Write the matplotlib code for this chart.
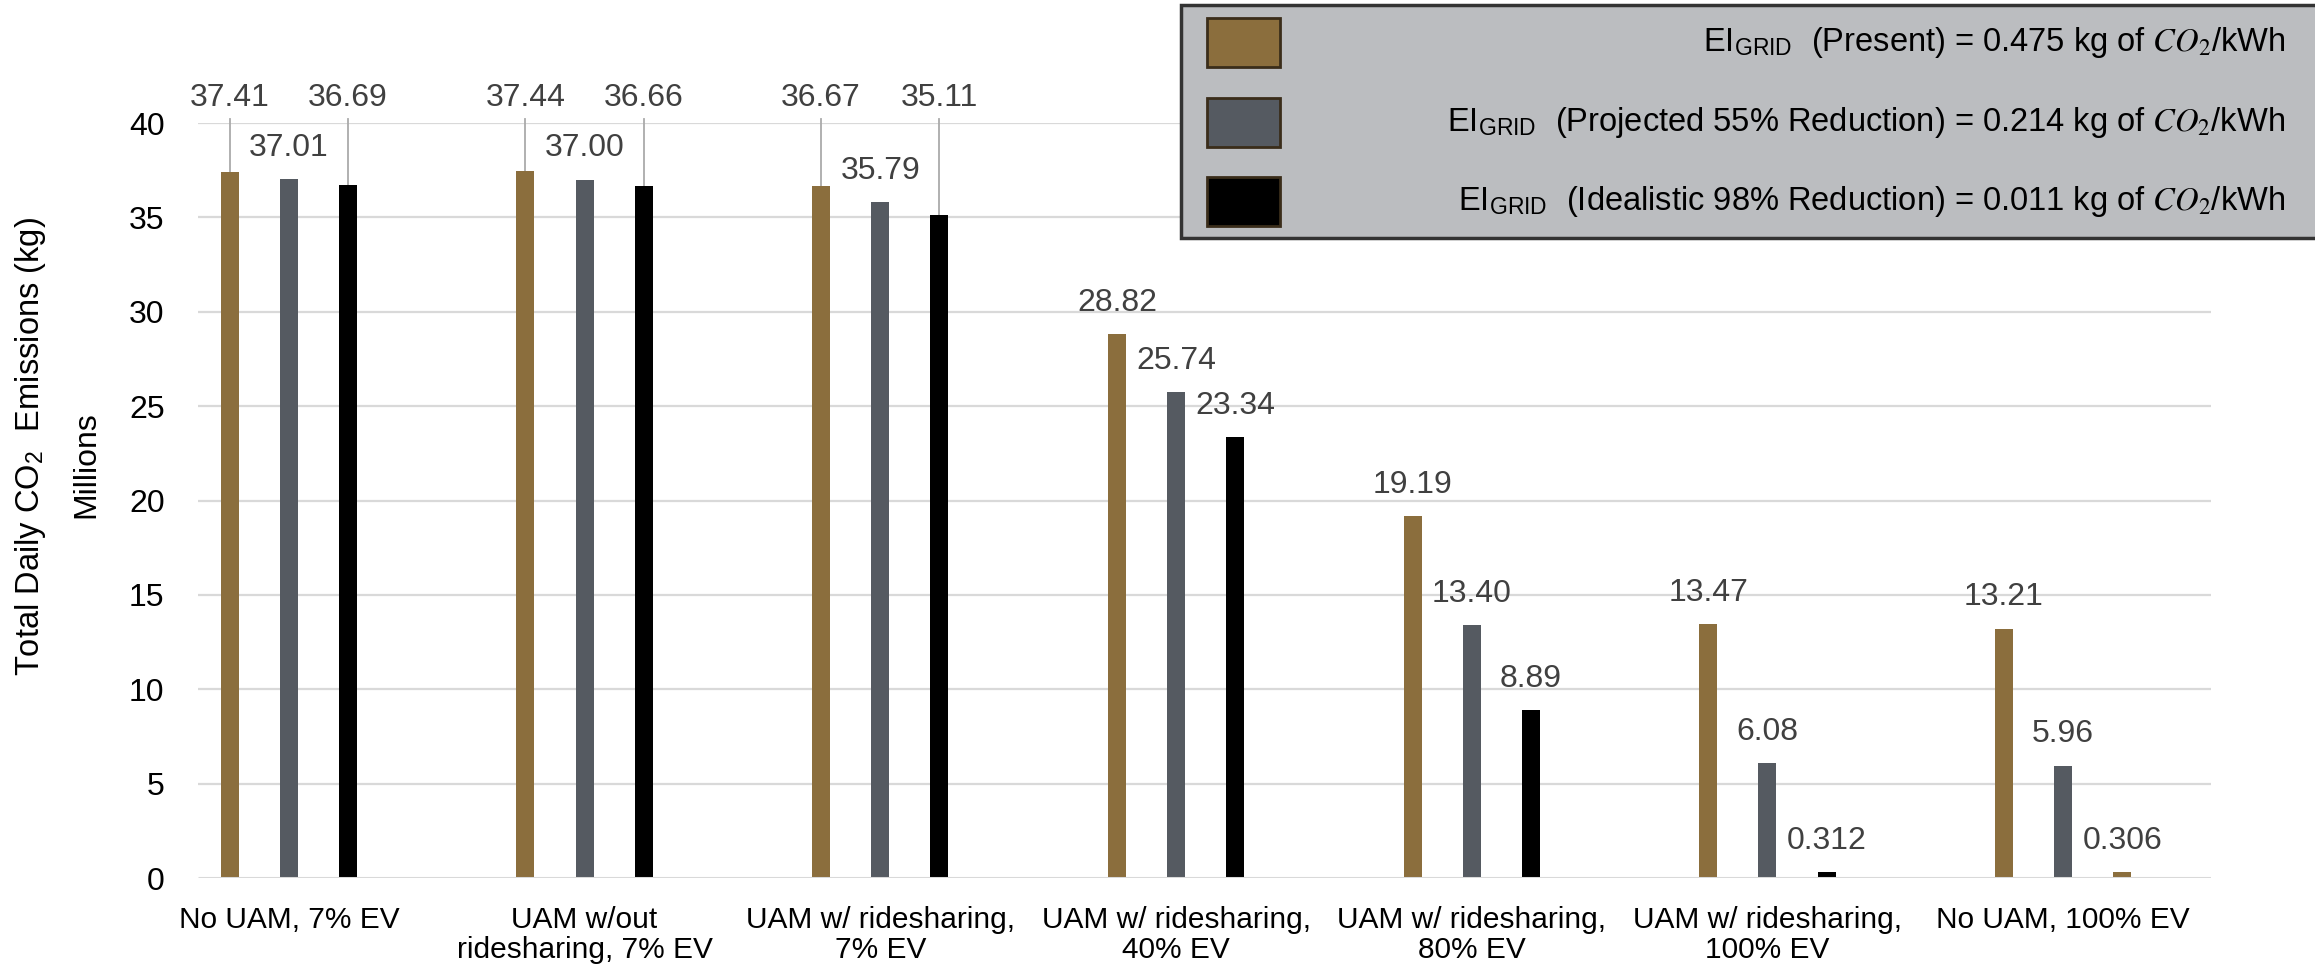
import matplotlib
matplotlib.use("Agg")
import matplotlib.pyplot as plt
from matplotlib.patches import Rectangle
import numpy as np

plt.rcParams['font.family'] = ['Liberation Sans', 'DejaVu Sans']
plt.rcParams['mathtext.fontset'] = 'stix'

# scenarios on the x axis
categories = [
    "No UAM, 7% EV",
    "UAM w/out\nridesharing, 7% EV",
    "UAM w/ ridesharing,\n7% EV",
    "UAM w/ ridesharing,\n40% EV",
    "UAM w/ ridesharing,\n80% EV",
    "UAM w/ ridesharing,\n100% EV",
    "No UAM, 100% EV",
]

# total daily CO2 emissions, millions of kg
present = [37.41, 37.44, 36.67, 28.82, 19.19, 13.47, 13.21]
projected = [37.01, 37.00, 35.79, 25.74, 13.40, 6.08, 5.96]
idealistic = [36.69, 36.66, 35.11, 23.34, 8.89, 0.312, 0.306]

present_txt = ["37.41", "37.44", "36.67", "28.82", "19.19", "13.47", "13.21"]
projected_txt = ["37.01", "37.00", "35.79", "25.74", "13.40", "6.08", "5.96"]
idealistic_txt = ["36.69", "36.66", "35.11", "23.34", "8.89", "0.312", "0.306"]

legend_labels = [
    r"EI$_{\mathregular{GRID}}$  (Present) = 0.475 kg of $\mathit{CO}_2$/kWh",
    r"EI$_{\mathregular{GRID}}$  (Projected 55% Reduction) = 0.214 kg of $\mathit{CO}_2$/kWh",
    r"EI$_{\mathregular{GRID}}$  (Idealistic 98% Reduction) = 0.011 kg of $\mathit{CO}_2$/kWh",
]

yticks = [0, 5, 10, 15, 20, 25, 30, 35, 40]

GOLD = "#8b6e3d"
GREY = "#555a61"
BLACK = "#000000"
LABEL = "#404040"
GRID = "#d9d9d9"

# which labels sit up top with a leader line (series index, category index)
leader_labels = [(0, 0), (2, 0), (0, 1), (2, 1), (0, 2), (2, 2)]

fig = plt.figure(figsize=(23.15, 9.64), dpi=100)
ax = fig.add_axes([0.0609, 0.0892, 0.8942, 0.7832])

x = np.arange(len(categories))
width = 0.061
offsets = [-0.2, 0.0, 0.2]
series = [present, projected, idealistic]
texts = [present_txt, projected_txt, idealistic_txt]
# the last small bar is drawn in gold in the original
colors = [[GOLD] * 7, [GREY] * 7, [BLACK] * 6 + [GOLD]]

for s in range(3):
    bars = ax.bar(x + offsets[s], series[s], width, color=colors[s], zorder=3)
    for i, b in enumerate(bars):
        bx = b.get_x() + b.get_width() / 2
        top = b.get_height()
        if (s, i) in leader_labels:
            ax.text(bx, 41.35, texts[s][i], ha='center', va='center',
                    fontsize=23, color=LABEL, clip_on=False)
            ax.plot([bx, bx], [40.2, top], color="#aaaaaa", lw=1.3,
                    zorder=2, clip_on=False)
        else:
            ax.annotate(texts[s][i], (bx, top), xytext=(0, 22.5),
                        textcoords='offset points', ha='center', va='center',
                        fontsize=23, color=LABEL, annotation_clip=False)

ax.set_xlim(-0.5, len(categories) - 0.5)
ax.set_ylim(0, 40)
ax.set_yticks(yticks)
ax.set_xticks(x)
ax.set_xticklabels(categories, fontsize=21.5, linespacing=1.1)
ax.tick_params(axis='y', labelsize=23, length=0, pad=-17)
ax.tick_params(axis='x', length=0, pad=20)
for side in ['left', 'right', 'top', 'bottom']:
    ax.spines[side].set_visible(False)

# gridlines start a little inside the plot area, like the original
grid_start = -0.307
ax.hlines(yticks[1:], grid_start, len(categories) - 0.5, color=GRID, lw=1.6, zorder=0)
ax.hlines(0, grid_start, len(categories) - 0.5, color=GRID, lw=2.2, zorder=4)

fig.text(0.013, 0.537, r"Total Daily CO$_{\mathregular{2}}$  Emissions (kg)",
         rotation=90, ha='center', va='center', fontsize=23.5)
fig.text(0.0371, 0.518, "Millions", rotation=90, ha='center', va='center',
         fontsize=23)

# legend box drawn by hand: swatches on the left, text right aligned
fig.patches.append(Rectangle((0.510, 0.753), 0.52, 0.242, transform=fig.transFigure,
                             facecolor="#bbbdc0", edgecolor="#333333", lw=2.5,
                             zorder=5))
swatch_y = [0.956, 0.873, 0.791]
for k in range(3):
    fig.patches.append(Rectangle((0.5214, swatch_y[k] - 0.025), 0.0315, 0.05,
                                 transform=fig.transFigure,
                                 facecolor=[GOLD, GREY, BLACK][k],
                                 edgecolor="#3a2d1a", lw=2, zorder=6))
    fig.text(0.987, swatch_y[k], legend_labels[k], ha='right', va='center',
             fontsize=23.5, zorder=7)

fig.savefig("out.png", dpi=100)
